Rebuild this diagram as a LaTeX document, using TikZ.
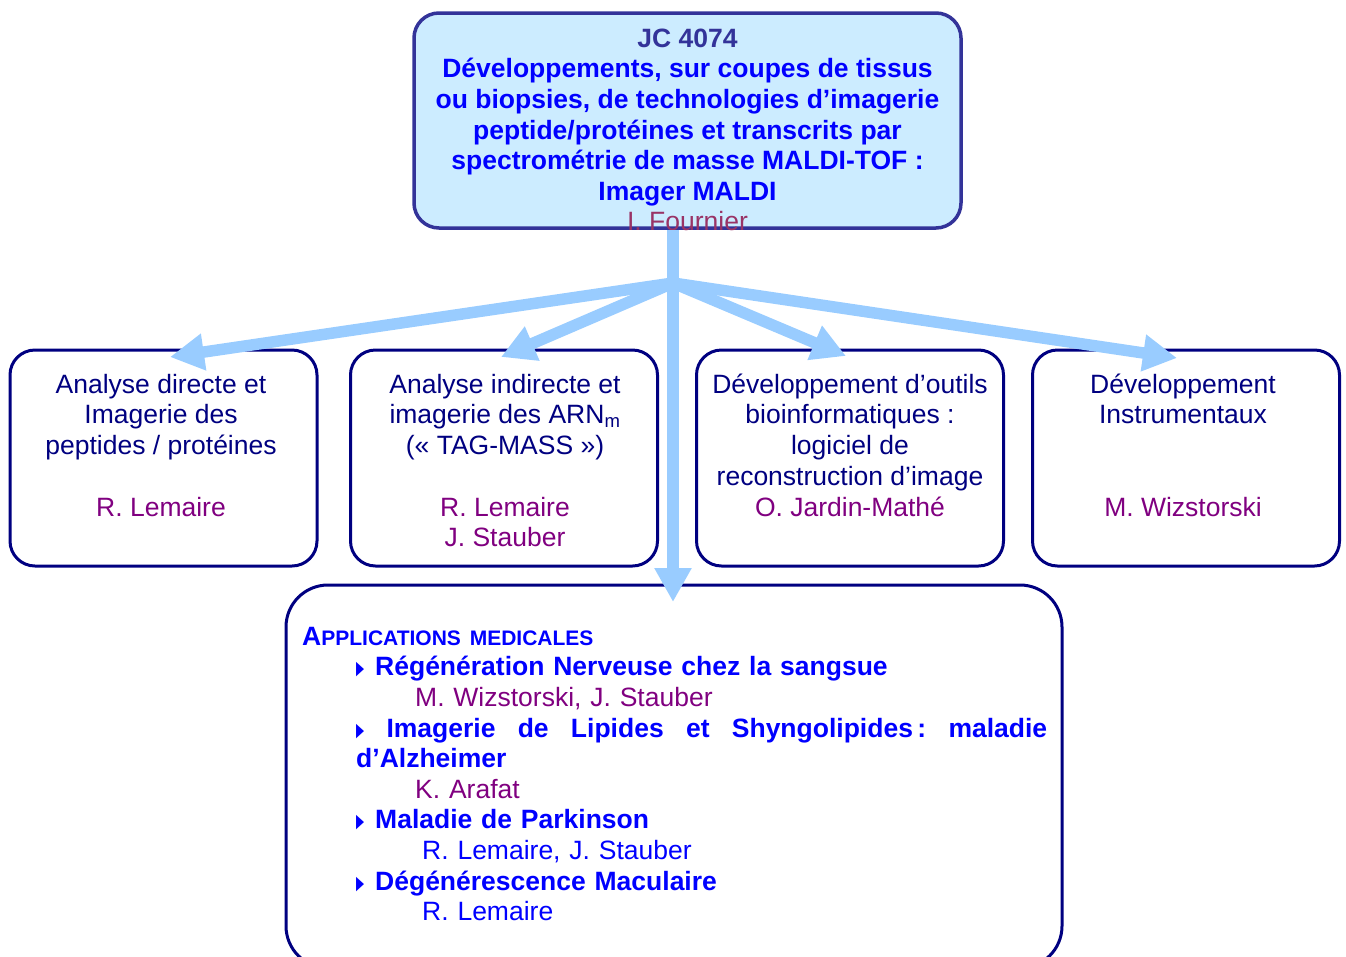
\documentclass[tikz,border=0pt]{standalone}
\usepackage{fontspec}
\setmainfont{Liberation Sans}
\newfontfamily\dejavu{DejaVu Sans}
\usetikzlibrary{arrows.meta,calc}
\definecolor{topfill}{HTML}{CCECFF}
\definecolor{topdraw}{HTML}{333399}
\definecolor{myblue}{HTML}{0000FF}
\definecolor{fourn}{HTML}{993366}
\definecolor{arrowc}{HTML}{99CCFF}
\definecolor{navy}{HTML}{000080}
\definecolor{purp}{HTML}{800080}
\newcommand\tri{\raisebox{1pt}{\scalebox{0.55}[1]{\fontsize{19}{19}\selectfont\dejavu ▶}}}
\newcommand\bul{\makebox[19pt][l]{\tri}}
\begin{document}
\begin{tikzpicture}[x=1pt,y=-1pt,
  topbox/.style={draw=topdraw,fill=topfill,line width=3.5pt,rounded corners=25pt,inner sep=0pt},
  midbox/.style={draw=navy,line width=3pt,rounded corners=25pt,inner sep=0pt,minimum width=307pt,minimum height=216pt},
  botbox/.style={draw=navy,line width=3pt,rounded corners=42pt,inner sep=0pt},
  midtext/.style={anchor=north,inner sep=0pt,align=center,text=navy,font=\fontsize{26.5}{30.7}\selectfont},
  arr/.style={draw=arrowc,line width=11.5pt,-{Triangle[length=34pt,width=35pt]}}]
\useasboundingbox (0,0) rectangle (1346,956);

% boxes
\node[topbox,minimum width=547pt,minimum height=215pt] (top) at (687.5,120.5) {};
\node[midbox] (b1) at (163.5,458) {};
\node[midbox] (b2) at (504,458) {};
\node[midbox] (b3) at (850,458) {};
\node[midbox] (b4) at (1186,458) {};
\node[botbox,minimum width=776pt,minimum height=383pt] (bot) at (674,776.5) {};

% top text
\node[anchor=north,inner sep=0pt,align=center,text=myblue,font=\bfseries\fontsize{26.5}{30.6}\selectfont] (toptext) at (687.5,26)
 {\rule{0pt}{21pt}\textcolor{topdraw}{JC 4074}\\
  Développements, sur coupes de tissus\\
  ou biopsies, de technologies d’imagerie\\
  peptide/protéines et transcrits par\\
  spectrométrie de masse MALDI-TOF :\\
  Imager MALDI\\
  {\mdseries\color{fourn}I. Fournier}};

% middle texts
\node[midtext] (t1) at (161,372)
 {\rule{0pt}{21pt}Analyse directe et\\ Imagerie des\\ peptides / protéines\\[30.7pt]
  \textcolor{purp}{R. Lemaire}};
\node[midtext] (t2) at (505,372)
 {\rule{0pt}{21pt}Analyse indirecte et\\ imagerie des ARN\textsubscript{m}\\ (« TAG-MASS »)\\[30.7pt]
  \textcolor{purp}{R. Lemaire}\\ \textcolor{purp}{J. Stauber}};
\node[midtext] (t3) at (850,372)
 {\rule{0pt}{21pt}Développement d’outils\\ bioinformatiques :\\ logiciel de\\ reconstruction d’image\\
  \textcolor{purp}{O. Jardin-Mathé}};
\node[midtext] (t4) at (1183,372)
 {\rule{0pt}{21pt}Développement\\ Instrumentaux\\[61.4pt]
  \textcolor{purp}{M. Wizstorski}};

% bottom text
\node[anchor=north west,inner sep=0pt,text width=760pt,align=left,text=myblue,font=\bfseries\fontsize{26.5}{30.6}\selectfont] (bottext) at (302,624)
 {\rule{0pt}{21pt}A{\fontsize{21}{30.6}\selectfont PPLICATIONS MEDICALES}\\
  \hspace*{54pt}\bul Régénération Nerveuse chez la sangsue\\
  \hspace*{113pt}{\mdseries\color{purp}M. Wizstorski, J. Stauber}\\
  \hspace*{54pt}\hbox to 691pt{\tri\hfill Imagerie\hfill de\hfill Lipides\hfill et\hfill Shyngolipides\,:\hfill maladie}\\
  \hspace*{54pt}d’Alzheimer\\
  \hspace*{113pt}{\mdseries\color{purp}K. Arafat}\\
  \hspace*{54pt}\bul Maladie de Parkinson\\
  \hspace*{120pt}{\mdseries R. Lemaire, J. Stauber}\\
  \hspace*{54pt}\bul Dégénérescence Maculaire\\
  \hspace*{120pt}{\mdseries R. Lemaire}};

% connectors
\coordinate (hub) at (673,283);
\coordinate (tip1) at (170,357);
\coordinate (tip2) at (501,357);
\coordinate (tip3) at (846,356);
\coordinate (tip4) at (1177,358);
\coordinate (vtip) at (673,602);
\draw[arr] (hub) -- (tip1);
\draw[arr] (hub) -- (tip2);
\draw[arr] (hub) -- (tip3);
\draw[arr] (hub) -- (tip4);
\draw[arr] (top.south -| hub) -- (vtip);
\end{tikzpicture}
\end{document}
